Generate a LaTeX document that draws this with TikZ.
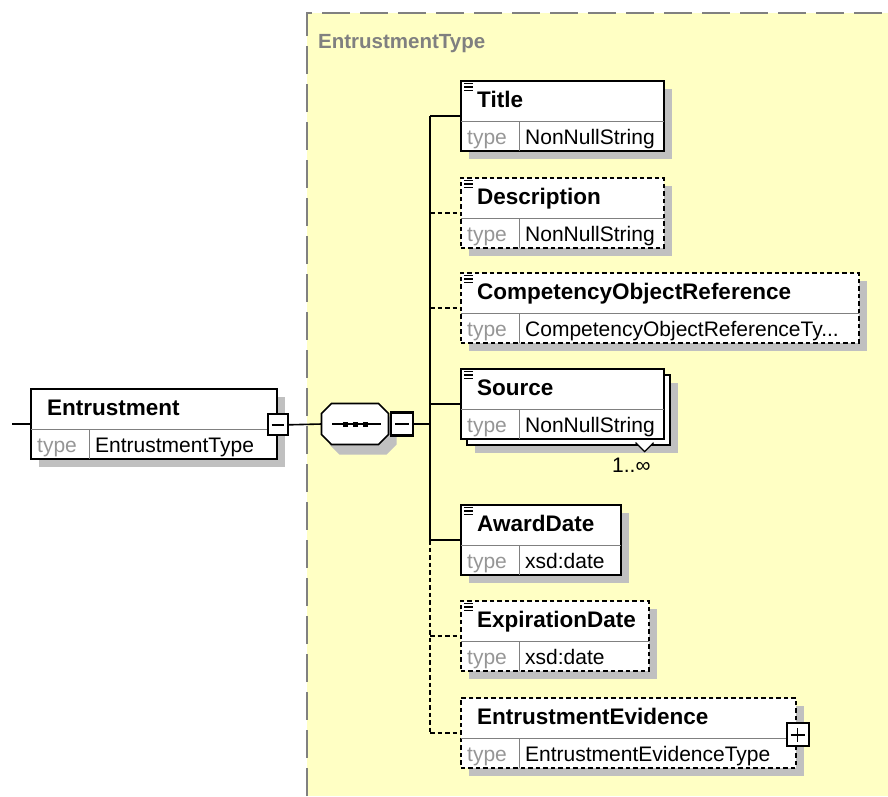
\documentclass[tikz,border=0pt]{standalone}
\usepackage{fontspec}
\setmainfont{Liberation Sans}
\usetikzlibrary{calc,positioning,shadows}

\definecolor{typebg}{RGB}{255,255,196}
\definecolor{shadowgray}{RGB}{192,192,192}
\definecolor{frame}{RGB}{128,128,128}
\definecolor{keygray}{RGB}{150,150,150}

\tikzset{
  wire/.style={line width=1.6pt},
  optional/.style={dash pattern=on 4.5pt off 3pt},
  shadowed/.style={drop shadow={shadow xshift=8pt,shadow yshift=-8pt,fill=shadowgray,opacity=1}},
  elembox/.style={draw,fill=white,line width=1.6pt,rectangle,inner sep=0pt,minimum height=70pt,anchor=north west},
  mandatory/.style={shadowed},
  optelem/.style={shadowed,optional},
  divider/.style={draw=gray,line width=1pt},
  elemname/.style={font=\fontsize{22.5pt}{26pt}\selectfont\bfseries,inner sep=0pt,anchor=base west},
  typekey/.style={font=\fontsize{21pt}{25pt}\selectfont,text=keygray,inner sep=0pt,anchor=base west},
  typeval/.style={font=\fontsize{21pt}{25pt}\selectfont,inner sep=0pt,anchor=base west},
  toggle/.style={draw,fill=white,line width=2.2pt,inner sep=0pt,minimum width=20pt,minimum height=21pt},
  seqbox/.style={rectangle,minimum width=67pt,minimum height=41pt,inner sep=0pt,outer sep=0pt},
}

% element box: name, top left, width, style, label, type
\newcommand\xelem[6]{%
  \node[elembox,#4,minimum width=#3pt] (#1) at (#2) {};
  \draw[divider] ($(#1.north west)+(0.8,41)$) -- ($(#1.north east)+(-0.8,41)$);
  \draw[divider] ($(#1.north west)+(59,41)$) -- ($(#1.south west)+(59,-0.8)$);
  \node[elemname] (#1-name) at ($(#1.north west)+(17,27)$) {#5};
  \node[typekey] (#1-key) at ($(#1.north west)+(7,64)$) {type};
  \node[typeval] (#1-type) at ($(#1.north west)+(65,64)$) {#6};
  \coordinate (#1-in) at ($(#1.north west)+(0,36)$);
}
\newcommand\docicon[1]{%
  \foreach \dy in {3.5,7,10.5}
    {\draw[line width=1.4pt] ($(#1.north west)+(4,\dy)$) -- ++(9,0);}
}

\begin{document}
\begin{tikzpicture}[x=1pt,y=-1pt]
\useasboundingbox (0,0) rectangle (888,796);

% complex type area
\fill[typebg] (307,13) rectangle (888,796);
\draw[frame,line width=2pt,dash pattern=on 28pt off 10pt] (307,796) -- (307,13) -- (888,13);
\node[font=\fontsize{20.5pt}{24pt}\selectfont\bfseries,text=frame,inner sep=0pt,anchor=base west] (ctype) at (318,48) {EntrustmentType};

% root element
\coordinate (src) at (12,424);
\xelem{entr}{30,388}{246}{mandatory}{Entrustment}{EntrustmentType}
\node[toggle] (entr-minus) at ($(entr.east)+(0,1)$) {};
\draw[line width=1.4pt] ($(entr-minus.center)+(-6,0)$) -- ++(12,0);
\draw[wire] (src) -- (entr-in);

% sequence
\node[seqbox] (seq) at (355,424) {};
\fill[fill=shadowgray] ($(seq.north west)+(18,10)$) -- ++(47,0) -- ++(10,10) -- ++(0,21)
  -- ++(-10,10) -- ++(-47,0) -- ++(-10,-10) -- ++(0,-21) -- cycle;
\filldraw[wire,fill=white] ($(seq.north west)+(10,0)$) -- ++(47,0) -- ++(10,10) -- ++(0,21)
  -- ++(-10,10) -- ++(-47,0) -- ++(-10,-10) -- ++(0,-21) -- cycle;
\draw[wire] (entr-minus.east) -- (seq.west);
\draw[line width=1.4pt] ($(seq.center)+(-23,0)$) -- ++(49,0);
\foreach \dx in {-10,0,10}
  \fill ($(seq.center)+(\dx-2.5,-2.5)$) rectangle ++(5,5);
\node[toggle,minimum width=22pt,minimum height=23pt] (seq-minus) at (402,424) {};
\draw[line width=1.4pt] ($(seq-minus.center)+(-7,0)$) -- ++(14,0);

% children
\xelem{title}{460,80}{203}{mandatory}{Title}{NonNullString}
\xelem{desc}{460,177}{203}{optelem}{Description}{NonNullString}
\xelem{cor}{460,272}{398}{optelem}{CompetencyObjectReference}{CompetencyObjectReferenceTy...}
\node[elembox,shadowed,minimum width=203pt] (source-back) at (466,374) {};
\draw[line width=1.2pt,fill=white] ($(source-back.south east)+(-35,-3)$) -- ++(9,9) -- ++(9,-9);
\xelem{source}{460,368}{203}{}{Source}{NonNullString}
\node[typeval] (source-occ) at (612,472) {1..∞};
\xelem{award}{460,504}{160}{mandatory}{AwardDate}{xsd:date}
\xelem{expir}{460,600}{188}{optelem}{ExpirationDate}{xsd:date}
\xelem{evid}{460,697}{335}{optelem}{EntrustmentEvidence}{EntrustmentEvidenceType}
\node[toggle,minimum width=22pt,minimum height=23pt] (evid-plus) at ($(evid.east)+(1,2)$) {};
\draw[line width=1.4pt] ($(evid-plus.center)+(-7,0)$) -- ++(14,0)
  ($(evid-plus.center)+(0,-7)$) -- ++(0,14);
\foreach \n in {title,desc,cor,source,award,expir}
  {\docicon{\n}}

% connectors
\coordinate (bus) at (430,424);
\draw[wire] (seq-minus.east) -- (bus);
\draw[wire] (title-in -| bus) -- (award-in -| bus);
\draw[wire,optional] (award-in -| bus) -- (evid-in -| bus);
\foreach \n in {title,source,award}
  \draw[wire] (\n-in -| bus) -- (\n-in);
\foreach \n in {desc,cor,expir,evid}
  \draw[wire,optional] (\n-in -| bus) -- (\n-in);
\end{tikzpicture}
\end{document}
